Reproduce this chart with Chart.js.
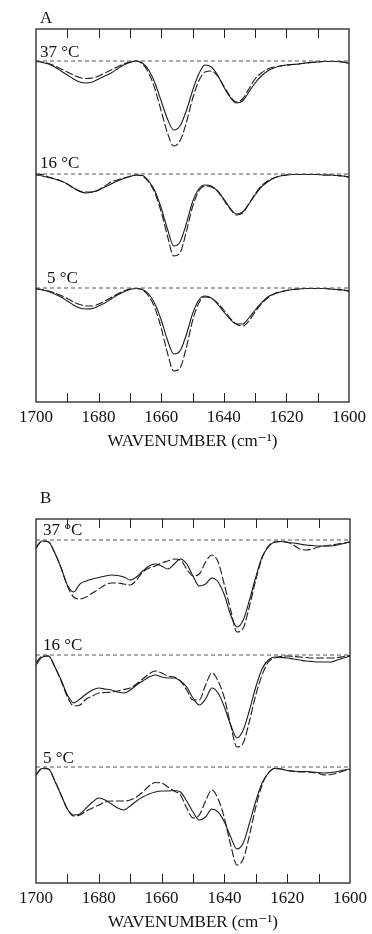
<!DOCTYPE html>
<html>
<head>
<meta charset="utf-8">
<script src="https://cdn.jsdelivr.net/npm/chart.js@4.4.1/dist/chart.umd.min.js"></script>
<style>
  html, body { margin: 0; padding: 0; background: #fff; }
  body { width: 372px; height: 934px; position: relative; overflow: hidden; }
  canvas { position: absolute; left: 0; }
  #panelA { top: 0; }
  #panelB { top: 470px; }
</style>
</head>
<body>
<canvas id="panelA" width="372" height="460"></canvas>
<canvas id="panelB" width="372" height="464"></canvas>
<script>
// wavenumber grid (cm-1), shared by every spectrum
const WAVENUMBERS = [1700,1698,1696,1694,1692,1690,1688,1686,1684,1682,
  1680,1678,1676,1674,1672,1670,1668,1666,1664,1662,
  1660,1658,1656,1654,1652,1650,1648,1646,1644,1642,
  1640,1638,1636,1634,1632,1630,1628,1626,1624,1622,
  1620,1618,1616,1614,1612,1610,1608,1606,1604,1602,1600];
const MINOR_TICKS = [1690,1680,1670,1660,1650,1640,1630,1620,1610];
const TEMPS = ['37 °C', '16 °C', '5 °C'];

// depth below each trace's own baseline (arbitrary units), panel A
const A37_SOLID  = [0.5,1.5,3,6,10,14,18,21,22,21, 18,15,12,8,4,1.5,0,2,9,22, 40,58,69,65,50,30,13,4,6,14, 26,36,42,40,31,22,15,10,7,5, 4,3.5,3,2,1.5,1,0.5,0.5,0.5,1, 2.5];
const A37_DASHED = [0,1,2.5,5,8,11,14,16.5,17.5,17, 15,12,9,6,3,1,0,3,12,28, 50,72,85,80,62,38,20,11,10,15, 25,35,41,38,28,18,12,8,6,5, 4,3.5,3,2,1.5,1,0.5,0.5,0.5,1, 2];
const A16_SOLID  = [1,2,3.5,5,7,10,14,17.5,19,18, 16,13,10,7,4.5,2.5,1,1.5,7,17, 34,55,72,68,50,28,15,11,12,17, 25,34,40,38,30,21,13,8,4,2, 1,0.5,0.5,0.5,0.5,0.5,1,1,1.5,2, 3];
const A16_DASHED = [0,0.5,3,5,7,10,14,17,18,18, 16,12,8,6,4,2.5,1,2,8,19, 38,62,82,79,58,33,17,12,13,17, 26,35,41,39,30,20,12,7,4,2, 1,0.5,0.5,0.5,0.5,0.5,1,1,1.5,2, 3];
const A5_SOLID   = [1,2,3.5,6,9,13,17,20,21,20.5, 18,15,11,7,4,1.5,0.5,1.5,6,16, 32,52,66,63,47,26,12,8,10,16, 24,31,36,36,30,22,15,9,6,4, 2.5,1.5,1,0.5,0.5,0.5,0.5,1,1.5,2, 3];
const A5_DASHED  = [0.5,1.5,3,5,7.5,10.5,14,16.5,18,18, 16,13,9.5,6,3,1,0.5,2,8,20, 40,65,83,80,60,33,15,9,10,15, 22,30,36,38,33,24,16,10,6,4, 2.5,1.5,1,0.5,0.5,0.5,0.5,1,1.5,2, 3];

// panel B
const B37_SOLID  = [7,1,2,13,28,45,52,44,41,39, 37.5,36,35,35.5,37,40,37,31,26,24, 26,29,24,19,24,36,46,44,38,42, 55,75,87,80,60,37,17,7,2,1.5, 2.5,3,4,5,5.5,6,6,6,5,3.5, 2];
const B37_DASHED = [8,1,2,13,28,46,57,59,57,53, 49,45,43,43,44,45,40,32,28,26, 23,21,19,20,29,36,34,22,15,22, 45,70,92,88,66,40,18,6,2,1.5, 2,5,9,10,9,7,6,5,4,3, 2];
const B16_SOLID  = [10,2,1,12,25,40,48,44,39,35, 33,34,35,37,38,35,30,26,22,20, 22,23,23,26,32,43,50,44,33,38, 52,70,83,75,55,32,14,5,2,2.5, 3,4,5,6,6.5,7,7,7,5,3, 1];
const B16_DASHED = [8,1,1,12,26,42,51,50,44,41, 38,37.5,37,36,34.5,33,29,24,19,16, 18,21,22,26,35,45,45,30,18,26, 43,70,92,88,66,40,20,7,3,1.5, 1,1.5,2,2.5,3,3,3,3,2.5,1.5, 0.5];
const B5_SOLID   = [8,1.5,2,14,28,42,48,47,41,35, 31,33,37,41,43,39,34,30,27,25, 24,24,23.5,25,34,45,53,50,42,45, 55,70,82,76,56,34,16,6,1.5,2, 3.5,4,4.5,4.5,5,5.5,6,5.5,4.5,3, 2];
const B5_DASHED  = [8,1,2,14,28,42,49,48,44,41, 38,35,34,34,34,33,30,25,19,15.5, 16,20,24,28,41,51,48,34,23,32, 51,78,98,92,68,40,18,6,1.5,2, 3.5,4.5,5,5,5.5,6.5,8,7.5,6,4, 2.5];

// vertical stacking of the three temperatures
const A_OFFSETS = [0, -113, -227];
const B_OFFSETS = [0, -115, -227];

const SERIF = '"Liberation Serif", "DejaVu Serif", serif';
Chart.defaults.font.family = SERIF;
Chart.defaults.color = '#111';

function spectrum(depths, offset) {
  return WAVENUMBERS.map((w, i) => ({ x: w, y: offset - depths[i] }));
}

// box, inward ticks, panel letter and temperature labels
const framePlugin = {
  id: 'frame',
  afterDraw(chart, args, opts) {
    const { ctx, chartArea: a, scales: { x, y } } = chart;
    ctx.save();
    ctx.strokeStyle = '#222';
    ctx.lineWidth = 1.3;
    ctx.strokeRect(a.left, a.top, a.right - a.left, a.bottom - a.top);
    ctx.lineWidth = 1;
    ctx.beginPath();
    MINOR_TICKS.forEach(v => {
      const px = Math.round(x.getPixelForValue(v)) + 0.5;
      ctx.moveTo(px, a.top); ctx.lineTo(px, a.top + 9);
      ctx.moveTo(px, a.bottom); ctx.lineTo(px, a.bottom - 9);
    });
    ctx.stroke();
    ctx.fillStyle = '#111';
    ctx.font = '17px ' + SERIF;
    ctx.textBaseline = 'alphabetic';
    ctx.fillText(opts.letter, a.left + 4, a.top - opts.letterGap);
    TEMPS.forEach((t, i) => {
      ctx.fillText(t, a.left + opts.labelDx[i], y.getPixelForValue(opts.offsets[i]) - opts.labelDy[i]);
    });
    ctx.restore();
  }
};

function makePanel(id, p) {
  const datasets = [];
  p.offsets.forEach((off, i) => {
    datasets.push({ data: [{ x: 1700, y: off }, { x: 1600, y: off }],
      borderColor: '#555', borderWidth: 1, borderDash: [4, 3] });
    datasets.push({ data: spectrum(p.solid[i], off), borderColor: '#1c1c1c', borderWidth: 1.1 });
    datasets.push({ data: spectrum(p.dashed[i], off), borderColor: '#1c1c1c', borderWidth: 1.1, borderDash: [8, 2.5] });
  });

  new Chart(document.getElementById(id), {
    type: 'line',
    data: { datasets },
    plugins: [framePlugin],
    options: {
      responsive: false, animation: false,
      layout: { padding: p.padding },
      elements: {
        point: { radius: 0 },
        line: { cubicInterpolationMode: 'monotone', fill: false }
      },
      plugins: {
        legend: { display: false },
        tooltip: { enabled: false },
        frame: { letter: p.letter, letterGap: p.letterGap, offsets: p.offsets,
                 labelDx: p.labelDx, labelDy: p.labelDy }
      },
      scales: {
        x: {
          type: 'linear', reverse: true, min: 1600, max: 1700,
          grid: { display: false, drawTicks: false },
          border: { display: false },
          ticks: { stepSize: 20, autoSkip: false, maxRotation: 0, padding: 5,
                   font: { size: 17 }, callback: v => String(v) },
          title: { display: true, text: 'WAVENUMBER (cm⁻¹)', font: { size: 17 }, padding: { top: 0, bottom: 0 } },
          afterFit: s => { s.height = 50; }
        },
        y: { display: false, min: p.yMin, max: p.yMax }
      }
    }
  });
}

makePanel('panelA', {
  letter: 'A', letterGap: 6,
  offsets: A_OFFSETS,
  solid: [A37_SOLID, A16_SOLID, A5_SOLID],
  dashed: [A37_DASHED, A16_DASHED, A5_DASHED],
  yMin: -341, yMax: 32,
  padding: { left: 36, right: 23, top: 29, bottom: 8 },
  labelDx: [4, 4, 11], labelDy: [4, 6, 5]
});

makePanel('panelB', {
  letter: 'B', letterGap: 16,
  offsets: B_OFFSETS,
  solid: [B37_SOLID, B16_SOLID, B5_SOLID],
  dashed: [B37_DASHED, B16_DASHED, B5_DASHED],
  yMin: -343, yMax: 21,
  padding: { left: 36, right: 22, top: 49, bottom: 1 },
  labelDx: [7, 7, 7], labelDy: [5, 5, 4]
});
</script>
</body>
</html>
